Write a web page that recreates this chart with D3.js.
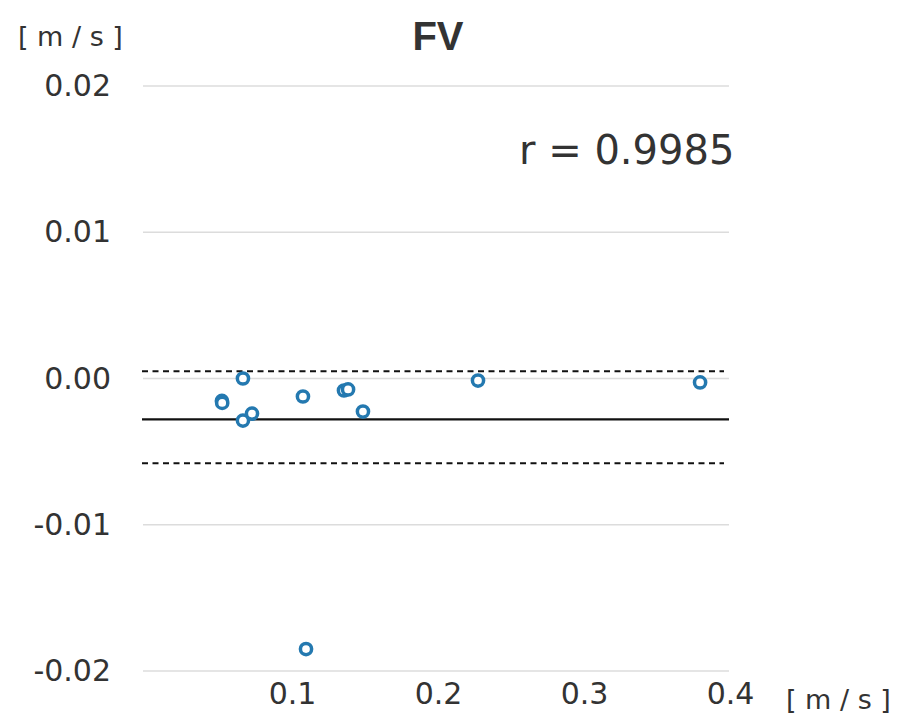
<!DOCTYPE html>
<html>
<head>
<meta charset="utf-8">
<script src="https://cdn.jsdelivr.net/npm/d3@7"></script>
<style>
  body { margin: 0; background: #fff; }
  svg { display: block; }
  text { font-family: "DejaVu Sans", sans-serif; fill: #333; }
</style>
</head>
<body>
<div id="chart"></div>
<script>
// ---- data ----
const title = "FV";
const unitLabel = "[ m / s ]";
const rLabel = "r = 0.9985";
const xValues = [0.052, 0.0522, 0.0664, 0.0664, 0.0726, 0.1075, 0.1356, 0.1384, 0.1486, 0.2274, 0.3795, 0.1096];
const yValues = [-0.00153, -0.00167, 0.0, -0.00288, -0.0024, -0.00123, -0.00082, -0.00075, -0.00226, -0.00014, -0.00027, -0.0185];
const yTicks = [-0.02, -0.01, 0, 0.01, 0.02];
const yTickLabels = ["-0.02", "-0.01", "0.00", "0.01", "0.02"];
const xTicks = [0.1, 0.2, 0.3, 0.4];
const xTickLabels = ["0.1", "0.2", "0.3", "0.4"];
const meanLine = -0.0028;
const upperLimit = 0.0005;
const lowerLimit = -0.0058;

// ---- chart ----
const W = 900, H = 716;
const FONT = '"DejaVu Sans", sans-serif';
const svg = d3.select("#chart").append("svg").attr("width", W).attr("height", H);

const x = d3.scaleLinear().domain([0, 0.4]).range([146, 730]);
const y = d3.scaleLinear().domain([-0.02, 0.02]).range([671, 86]);
const gridL = 143, gridR = 729;

// gridlines
svg.append("g").selectAll("line").data(yTicks).join("line")
  .attr("x1", gridL).attr("x2", gridR)
  .attr("y1", d => y(d)).attr("y2", d => y(d))
  .attr("stroke", "#dcdcdc").attr("stroke-width", 1.5);

// y axis labels
const yAxis = d3.axisLeft(y).tickValues(yTicks)
  .tickFormat((d, i) => yTickLabels[i]).tickSize(0).tickPadding(0);
const gy = svg.append("g").attr("transform", "translate(111,0)").call(yAxis);
gy.select(".domain").remove();
gy.selectAll("text").style("font-size", "30px").attr("fill", "#333")
  .style("font-family", FONT);

// x axis labels
const xAxis = d3.axisBottom(x).tickValues(xTicks)
  .tickFormat((d, i) => xTickLabels[i]).tickSize(0).tickPadding(0);
const gx = svg.append("g").attr("transform", "translate(0,683)").call(xAxis);
gx.select(".domain").remove();
gx.selectAll("text").style("font-size", "30px").attr("fill", "#333")
  .style("font-family", FONT);

// limit lines
const limits = [
  { v: upperLimit, dash: "6,4.5", x2: 724, w: 2 },
  { v: meanLine, dash: null, x2: 729, w: 2.2 },
  { v: lowerLimit, dash: "6,4.5", x2: 724, w: 2 }
];
svg.append("g").selectAll("line").data(limits).join("line")
  .attr("x1", 142).attr("x2", d => d.x2)
  .attr("y1", d => y(d.v)).attr("y2", d => y(d.v))
  .attr("stroke", "#111").attr("stroke-width", d => d.w)
  .attr("stroke-dasharray", d => d.dash);

// points
svg.append("g").selectAll("circle").data(xValues.map((v, i) => [v, yValues[i]])).join("circle")
  .attr("cx", d => x(d[0])).attr("cy", d => y(d[1]))
  .attr("r", 5.6).attr("fill", "#fff")
  .attr("stroke", "#2479b0").attr("stroke-width", 3.5);

// texts
svg.append("text").attr("x", 438).attr("y", 50).attr("text-anchor", "middle")
  .style("font-size", "40px").style("font-weight", "bold").attr("fill", "#111")
  .style("font-family", '"Liberation Sans", Arial, sans-serif').text(title);
svg.append("text").attr("x", 18).attr("y", 46).attr("text-anchor", "start")
  .style("font-size", "27px").text(unitLabel);
svg.append("text").attr("x", 786).attr("y", 709).attr("text-anchor", "start")
  .style("font-size", "27px").text(unitLabel);
svg.append("text").attr("x", 519).attr("y", 164).attr("text-anchor", "start")
  .style("font-size", "40px").text(rLabel);
</script>
</body>
</html>
